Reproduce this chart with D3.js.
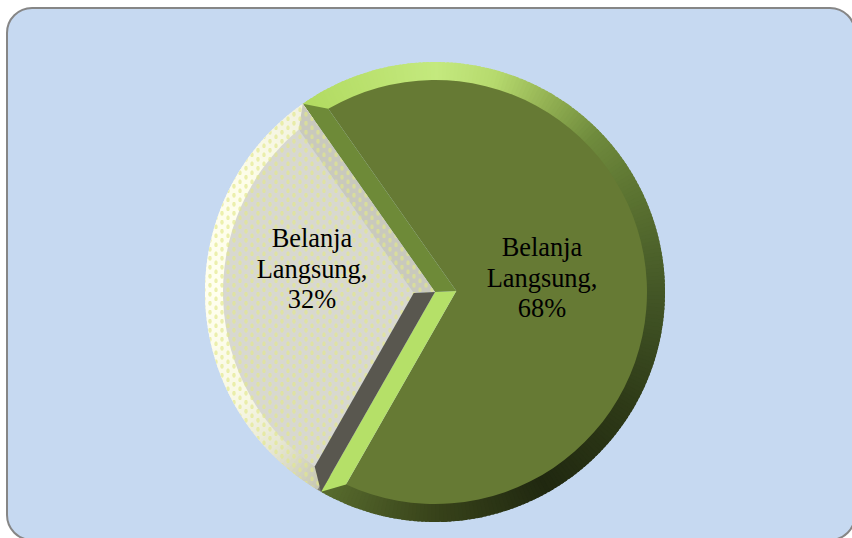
<!DOCTYPE html>
<html>
<head>
<meta charset="utf-8">
<script src="https://cdn.jsdelivr.net/npm/d3@7"></script>
<style>
  html, body { margin: 0; padding: 0; background: #fff; overflow: hidden; }
  svg { display: block; }
</style>
</head>
<body>
<div id="chart"></div>
<script>
const categories = ['Belanja Langsung', 'Belanja Langsung'];
const values = [68, 32];

const width = 852;
const height = 538;
const cx = 435;
const cy = 292;
const radius = 230;
const bevel = 18;
const innerR = radius - bevel;
const startDeg = -35.1;

// bevel lighting per slice, keyed on clock angle in degrees
const rimDomains = [
  [-36, 0, 15, 30, 45, 60, 90, 120, 150, 180, 210],
  [210, 225, 240, 270, 300, 325]
];
const rimColors = [
  ['#b1da60', '#c4e97e', '#b6da6e', '#93b153', '#6f8b3d', '#5f7733', '#435626', '#2e3a17', '#202810', '#38431a', '#5a6e2f'],
  ['#c6c6b2', '#e6e6d2', '#f8f8e4', '#ffffef', '#fdfde9', '#f1f1de']
];
const faceColors = ['#667a34', '#d8d8d0'];
const edgeStartColors = ['#6e8a38', '#59574f'];   // edge at the slice's clockwise start
const edgeEndColors = ['#b5e068', '#c9c9bd'];     // edge at the slice's clockwise end

const svg = d3.select('#chart')
  .append('svg')
  .attr('width', width)
  .attr('height', height);

const defs = svg.append('defs');
const dots = defs.append('pattern')
  .attr('id', 'dots')
  .attr('patternUnits', 'userSpaceOnUse')
  .attr('width', 12)
  .attr('height', 9);
dots.selectAll('ellipse')
  .data([[3, 2.25], [9, 6.75]])
  .enter()
  .append('ellipse')
  .attr('cx', d => d[0])
  .attr('cy', d => d[1])
  .attr('rx', 1.7)
  .attr('ry', 2.5)
  .attr('fill', '#e2e88a');

svg.append('rect')
  .attr('x', 7)
  .attr('y', 8)
  .attr('width', 848)
  .attr('height', 532)
  .attr('rx', 25)
  .attr('fill', '#c6d9f1')
  .attr('stroke', '#868686')
  .attr('stroke-width', 2);

const pie = d3.pie()
  .value(d => d)
  .sort(null)
  .startAngle(startDeg * Math.PI / 180)
  .endAngle(startDeg * Math.PI / 180 + 2 * Math.PI);

const arcs = pie(values);
const g = svg.append('g').attr('transform', `translate(${cx},${cy})`);
const polar = (r, a) => [r * Math.sin(a), -r * Math.cos(a)];
const delta = Math.asin(bevel / innerR);

arcs.forEach((d, i) => {
  const slice = g.append('g');
  const half = (d.endAngle - d.startAngle) / 2;
  const mid = d.startAngle + half;
  const apex = polar(bevel / Math.sin(half), mid);
  const corner0 = polar(innerR, d.startAngle + delta);
  const corner1 = polar(innerR, d.endAngle - delta);

  // rim is cut in short pieces so the light can follow the angle
  const rimColor = d3.scaleLinear().domain(rimDomains[i]).range(rimColors[i]);
  const step = Math.PI / 180;
  const pieces = d3.range(d.startAngle, d.endAngle, step);
  slice.selectAll('.rim')
    .data(pieces)
    .enter()
    .append('path')
    .attr('class', 'rim')
    .attr('d', a => d3.arc()({
      innerRadius: innerR - 1,
      outerRadius: radius,
      startAngle: a,
      endAngle: Math.min(a + step * 1.6, d.endAngle)
    }))
    .attr('fill', a => {
      const deg = a * 180 / Math.PI;
      const lo = rimDomains[i][0];
      return rimColor(deg < lo ? deg + 360 : deg);
    });

  const face = d3.path();
  face.moveTo(apex[0], apex[1]);
  face.lineTo(corner0[0], corner0[1]);
  face.arc(0, 0, innerR, d.startAngle + delta - Math.PI / 2, d.endAngle - delta - Math.PI / 2);
  face.closePath();
  slice.append('path')
    .attr('d', face.toString())
    .attr('fill', faceColors[i]);

  const line = d3.line();
  slice.append('path')
    .attr('d', line([[0, 0], polar(radius, d.endAngle), corner1, apex]) + 'Z')
    .attr('fill', edgeEndColors[i]);

  if (i === 1) {
    // dotted texture over the pale slice, dark edge stays on top
    slice.append('path')
      .attr('d', d3.arc()({
        innerRadius: 0,
        outerRadius: radius,
        startAngle: d.startAngle,
        endAngle: d.endAngle
      }))
      .attr('fill', 'url(#dots)')
      .attr('opacity', 0.65);
  }

  slice.append('path')
    .attr('d', line([[0, 0], polar(radius, d.startAngle), corner0, apex]) + 'Z')
    .attr('fill', edgeStartColors[i]);
});

// label anchor relative to pie centre, one per slice
const labelDx = [107, -123];
const labelDy = [-36, -45];
const lineGap = 30.5;

arcs.forEach((d, i) => {
  const lines = categories[i].split(' ');
  lines[lines.length - 1] += ',';
  lines.push(d.data + '%');
  g.append('text')
    .attr('transform', `translate(${labelDx[i]},${labelDy[i]})`)
    .attr('text-anchor', 'middle')
    .attr('font-family', '"Liberation Serif", "Times New Roman", serif')
    .attr('font-size', '26.4px')
    .attr('fill', '#000')
    .selectAll('tspan')
    .data(lines)
    .enter()
    .append('tspan')
    .attr('x', 0)
    .attr('y', (t, k) => k * lineGap)
    .text(t => t);
});
</script>
</body>
</html>
